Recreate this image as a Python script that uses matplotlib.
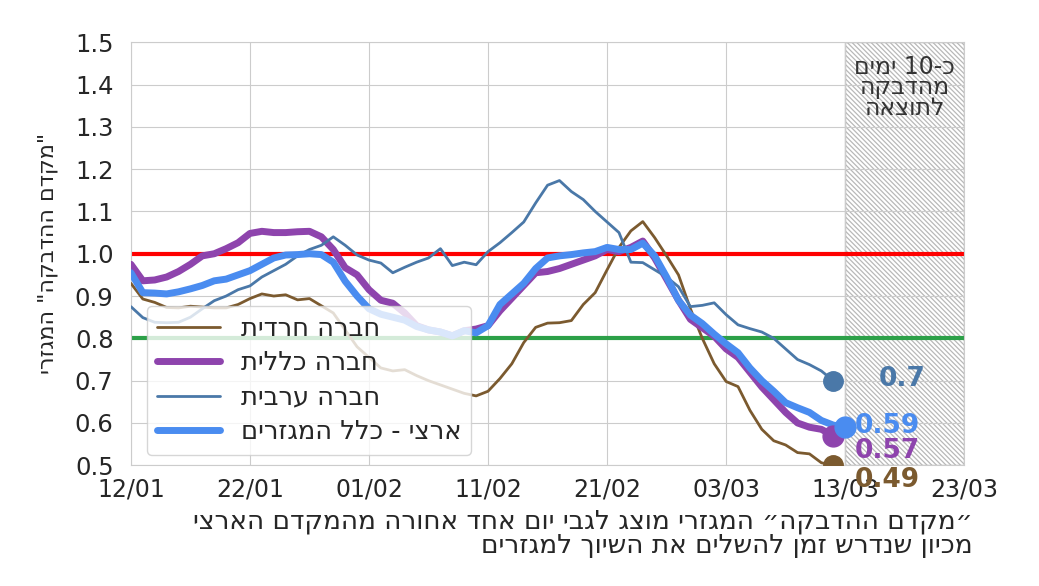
import re
import matplotlib
matplotlib.use('Agg')
import matplotlib.pyplot as plt
import matplotlib.dates as mdates
import pandas as pd
import seaborn as sns

sns.set_style('whitegrid')
plt.rcParams['font.family'] = ['DejaVu Sans']
plt.rcParams['hatch.color'] = '#c4c4c4'
plt.rcParams['hatch.linewidth'] = 0.9


def vis(s):
    # matplotlib draws left to right, so put the Hebrew in visual order
    out = []
    for line in s.split('\n'):
        r = line[::-1]
        r = re.sub(r'\d+', lambda m: m.group(0)[::-1], r)
        out.append(r)
    return '\n'.join(out)


# daily values, 12/01 .. 12/03 (national series one more day)
haredi = [0.93, 0.893, 0.885, 0.873, 0.872, 0.876, 0.874, 0.872, 0.872, 0.88,
          0.894, 0.905, 0.9, 0.903, 0.891, 0.894, 0.877, 0.86, 0.82, 0.78,
          0.755, 0.73, 0.723, 0.726, 0.712, 0.70, 0.69, 0.68, 0.67, 0.664,
          0.675, 0.705, 0.74, 0.79, 0.826, 0.836, 0.837, 0.842, 0.88, 0.908,
          0.962, 1.015, 1.054, 1.076, 1.038, 0.995, 0.95, 0.87, 0.80, 0.74,
          0.698, 0.686, 0.63, 0.585, 0.558, 0.548, 0.53, 0.527, 0.506, 0.50]
general = [0.975, 0.936, 0.938, 0.945, 0.958, 0.975, 0.995, 1.0, 1.012, 1.026,
           1.048, 1.053, 1.05, 1.05, 1.052, 1.053, 1.04, 1.01, 0.967, 0.95,
           0.915, 0.89, 0.883, 0.86, 0.83, 0.82, 0.815, 0.806, 0.818, 0.822,
           0.83, 0.865, 0.895, 0.925, 0.955, 0.958, 0.965, 0.975, 0.985, 0.995,
           1.01, 1.005, 1.015, 1.03, 0.99, 0.94, 0.89, 0.845, 0.825, 0.805,
           0.775, 0.755, 0.72, 0.685, 0.655, 0.625, 0.6, 0.59, 0.585, 0.57]
arab = [0.875, 0.849, 0.838, 0.837, 0.838, 0.85, 0.87, 0.889, 0.9, 0.915,
        0.924, 0.945, 0.96, 0.975, 0.995, 1.01, 1.02, 1.04, 1.02, 0.997,
        0.985, 0.978, 0.955, 0.968, 0.98, 0.99, 1.012, 0.972, 0.98, 0.974,
        1.005, 1.026, 1.05, 1.075, 1.12, 1.162, 1.173, 1.147, 1.128, 1.1,
        1.075, 1.05, 0.98, 0.979, 0.962, 0.945, 0.922, 0.875, 0.878, 0.884,
        0.856, 0.832, 0.823, 0.815, 0.8, 0.775, 0.75, 0.738, 0.723, 0.70]
national = [0.955, 0.908, 0.907, 0.905, 0.91, 0.917, 0.925, 0.936, 0.94, 0.95,
            0.96, 0.975, 0.99, 0.997, 0.998, 1.0, 0.998, 0.98, 0.935, 0.9,
            0.87, 0.857, 0.85, 0.843, 0.828, 0.82, 0.815, 0.806, 0.818, 0.813,
            0.83, 0.88, 0.905, 0.93, 0.965, 0.99, 0.995, 0.998, 1.002, 1.005,
            1.015, 1.01, 1.01, 1.025, 0.995, 0.945, 0.89, 0.855, 0.835, 0.81,
            0.787, 0.766, 0.73, 0.70, 0.675, 0.648, 0.636, 0.625, 0.606, 0.595, 0.59]

labels = ['חברה חרדית', 'חברה כללית', 'חברה ערבית', 'ארצי - כלל המגזרים']
end_labels = ['0.49', '0.57', '0.7', '0.59']
ticks = pd.date_range('2021-01-12', '2021-03-23', freq='10D')

d60 = pd.date_range('2021-01-12', periods=60)
d61 = pd.date_range('2021-01-12', periods=61)

fig = plt.figure(figsize=(10.39, 5.86), dpi=100)
ax = fig.add_axes([0.126, 0.206, 0.802, 0.722])

ax.axhline(1.0, color='#ff0000', lw=3, zorder=1)
ax.axhline(0.8, color='#2ca048', lw=3, zorder=1)

series = [(d60, haredi, '#7b5a2f', 2),
          (d60, general, '#8e44ad', 5),
          (d60, arab, '#4a78a8', 2),
          (d61, national, '#4a8cf0', 5)]
for (d, v, c, w), lab in zip(series, labels):
    ax.plot(d, v, color=c, lw=w, label=vis(lab), zorder=3)
    ax.plot(d[-1], v[-1], 'o', color=c, ms=15 if w > 2 else 14, zorder=4)

# forecast window, hatched
ax.axvspan(pd.Timestamp('2021-03-13'), pd.Timestamp('2021-03-23'),
           facecolor='none', edgecolor='#b8b8b8', hatch='\\\\\\\\\\\\\\', lw=1, zorder=0.5)

ax.text(pd.Timestamp('2021-03-18'), 1.47, vis('כ-10 ימים\nמהדבקה\nלתוצאה'),
        ha='center', va='top', fontsize=17, color='#333333', linespacing=0.82,
        zorder=5)

txt_pos = [('2021-03-13', 0.466, '#7b5a2f'), ('2021-03-13', 0.534, '#8e44ad'),
           ('2021-03-15', 0.705, '#4a78a8'), ('2021-03-13', 0.593, '#4a8cf0')]
for (x, y, c), s in zip(txt_pos, end_labels):
    ax.text(pd.Timestamp(x) + pd.Timedelta(hours=20), y, s, color=c, fontsize=19,
            fontweight='bold', va='center', ha='left', zorder=5, clip_on=False)

ax.set_xlim(pd.Timestamp('2021-01-12'), pd.Timestamp('2021-03-23'))
ax.set_ylim(0.5, 1.5)
ax.set_yticks([0.5 + 0.1 * i for i in range(11)])
ax.set_yticklabels(['%.1f' % (0.5 + 0.1 * i) for i in range(11)])
ax.set_xticks(ticks)
ax.xaxis.set_major_formatter(mdates.DateFormatter('%d/%m'))
ax.tick_params(labelsize=17, colors='#262626')
ax.tick_params(axis='y', labelsize=17.5, pad=9)
ax.tick_params(axis='x', pad=5)
ax.set_ylabel(vis('"מקדם ההדבקה" המגזרי'), fontsize=16, color='#262626')
ax.yaxis.set_label_coords(-0.088, 0.5)

ax.legend(loc='lower left', bbox_to_anchor=(0.019, 0.024), borderaxespad=0,
          prop={'size': 18.5}, handlelength=2.45, labelspacing=0.32,
          framealpha=0.8)

fig.text(0.936, 0.089, vis('״מקדם ההדבקה״ המגזרי מוצג לגבי יום אחד אחורה מהמקדם הארצי\n'
                           'מכיון שנדרש זמן להשלים את השיוך למגזרים'),
         ha='right', va='center', fontsize=19, color='#262626',
         multialignment='right', linespacing=0.92)

fig.savefig('out.png', dpi=100)
